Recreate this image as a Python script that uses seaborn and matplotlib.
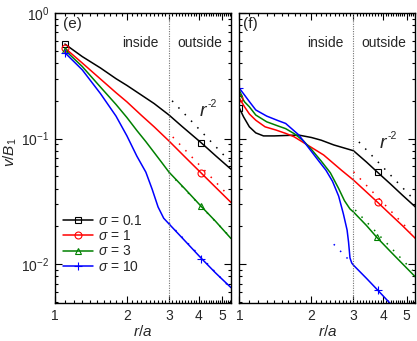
import numpy as np
import pandas as pd
import seaborn as sns
import matplotlib.pyplot as plt
from matplotlib.lines import Line2D
from matplotlib.ticker import FixedLocator, FixedFormatter, NullFormatter, LogLocator

# ---------------------------------------------------------------
# dati
# ---------------------------------------------------------------
sigma_labels = ["0.1", "1", "3", "10"]
colors = ["#000000", "#ff0000", "#008000", "#0000ff"]
marker_styles = ["s", "o", "^", "+"]

# pannello (e)
e_r_s01 = [1.1, 1.3, 1.55, 1.8, 2.0, 2.3, 2.6, 3.0, 3.4, 4.08, 4.7, 5.45]
e_v_s01 = [0.566, 0.45, 0.365, 0.30, 0.265, 0.222, 0.19, 0.154, 0.125, 0.093, 0.073, 0.057]
e_r_s1 = [1.1, 1.3, 1.55, 1.8, 2.0, 2.3, 2.6, 3.0, 3.5, 4.08, 4.7, 5.45]
e_v_s1 = [0.526, 0.40, 0.298, 0.232, 0.196, 0.153, 0.124, 0.0956, 0.0713, 0.0534, 0.0409, 0.031]
e_r_s3 = [1.1, 1.3, 1.55, 1.8, 2.0, 2.2, 2.4, 2.6, 2.8, 3.0, 3.5, 4.08, 4.7, 5.45]
e_v_s3 = [0.507, 0.375, 0.257, 0.187, 0.147, 0.116, 0.0945, 0.0774, 0.0643, 0.054, 0.0397, 0.029, 0.0219, 0.016]
e_r_s10 = [1.1, 1.3, 1.55, 1.8, 2.0, 2.2, 2.4, 2.55, 2.7, 2.85, 3.0, 3.5, 4.08, 4.7, 5.45]
e_v_s10 = [0.483, 0.353, 0.228, 0.151, 0.105, 0.0725, 0.054, 0.0395, 0.0285, 0.0232, 0.0209, 0.0153, 0.0112, 0.0085, 0.0065]

# pannello (f)
f_r_s01 = [1.0, 1.04, 1.1, 1.17, 1.26, 1.4, 1.6, 1.77, 2.0, 2.2, 2.48, 2.75, 3.0, 3.4, 3.79, 4.3, 4.8, 5.45]
f_v_s01 = [0.174, 0.149, 0.124, 0.111, 0.105, 0.105, 0.106, 0.1066, 0.102, 0.097, 0.089, 0.084, 0.080, 0.065, 0.0537, 0.0432, 0.0355, 0.0285]
f_r_s1 = [1.0, 1.05, 1.1, 1.17, 1.28, 1.42, 1.56, 1.69, 2.0, 2.25, 2.67, 3.0, 3.4, 3.79, 4.3, 4.8, 5.45]
f_v_s1 = [0.209, 0.179, 0.157, 0.14, 0.124, 0.117, 0.11, 0.1035, 0.085, 0.074, 0.056, 0.0467, 0.0375, 0.031, 0.0247, 0.0203, 0.016]
f_r_s3 = [1.0, 1.05, 1.1, 1.17, 1.3, 1.45, 1.56, 1.7, 1.85, 2.0, 2.2, 2.4, 2.6, 2.75, 2.9, 3.0, 3.4, 3.76, 4.3, 4.8, 5.45]
f_v_s3 = [0.229, 0.196, 0.179, 0.154, 0.136, 0.126, 0.12, 0.109, 0.096, 0.082, 0.066, 0.0534, 0.040, 0.032, 0.0275, 0.026, 0.0203, 0.0163, 0.0125, 0.0101, 0.0079]
f_r_s10 = [1.0, 1.05, 1.1, 1.17, 1.3, 1.45, 1.56, 1.77, 2.0, 2.15, 2.3, 2.45, 2.6, 2.72, 2.82, 2.86, 2.9, 2.95, 3.0, 3.4, 3.79, 4.3]
f_v_s10 = [0.251, 0.222, 0.197, 0.169, 0.151, 0.139, 0.132, 0.107, 0.079, 0.066, 0.056, 0.0457, 0.0348, 0.0252, 0.0187, 0.015, 0.0112, 0.0102, 0.0098, 0.0077, 0.0062, 0.0048]

# marker (posizioni lette)
e_mark_r = [1.1, 4.08]
e_mark_v = [[0.566, 0.093], [0.526, 0.0534], [0.507, 0.029], [0.483, 0.0109]]
f_mark_r = [[1.0, 3.79], [1.0, 3.79], [1.0, 3.76], [1.0, 3.79]]
f_mark_v = [[0.174, 0.0537], [0.209, 0.031], [0.229, 0.0163], [0.251, 0.0062]]

# rette r^-2 (punti estremi)
e_ref_r = [[3.09, 5.4], [3.11, 5.3], [3.0, 5.4], [3.0, 5.4]]
e_ref_v = [[0.2, 0.0655], [0.103, 0.0355], [0.0534, 0.0165], [0.0211, 0.0065]]
f_ref_r = [[3.16, 5.4], [3.0, 5.2], [3.05, 5.3], [2.48, 2.97]]
f_ref_v = [[0.094, 0.0323], [0.0544, 0.0181], [0.027, 0.0089], [0.0144, 0.0101]]

x_major = [1, 2, 3, 4, 5]
x_minor = [round(1.0 + 0.1 * k, 1) for k in range(1, 45) if round(1.0 + 0.1 * k, 1) not in (2.0, 3.0, 4.0, 5.0)]


def build_df(rs, vs):
    rows = []
    for lab, r, v in zip(sigma_labels, rs, vs):
        rows.append(pd.DataFrame({"r": r, "v": v, "sigma": lab}))
    return pd.concat(rows, ignore_index=True)


def draw_panel(ax, df, mark_r, mark_v, ref_r, ref_v, tag, rpos, show_ylabels):
    sns.lineplot(data=df, x="r", y="v", hue="sigma", palette=colors,
                 hue_order=sigma_labels, estimator=None, legend=False,
                 linewidth=1.1, ax=ax)
    for i, c in enumerate(colors):
        # retta di riferimento r^-2 (punteggiata)
        sns.lineplot(x=ref_r[i], y=ref_v[i], color=c, linewidth=1.1,
                     linestyle=(0, (1, 5)), ax=ax)
        mr = mark_r[i] if isinstance(mark_r[0], list) else mark_r
        ax.plot(mr, mark_v[i], linestyle="none", marker=marker_styles[i],
                mfc="none", mec=c, mew=0.8, ms=5 if marker_styles[i] != "+" else 6)

    ax.axvline(3, color="0.45", linewidth=0.8, linestyle=(0, (1, 1.2)))

    ax.set_xscale("log")
    ax.set_yscale("log")
    ax.set_xlim(1, 5.45)
    ax.set_ylim(4.9e-3, 1)

    ax.xaxis.set_major_locator(FixedLocator(x_major))
    ax.xaxis.set_major_formatter(FixedFormatter([str(x) for x in x_major]))
    ax.xaxis.set_minor_locator(FixedLocator(x_minor))
    ax.xaxis.set_minor_formatter(NullFormatter())
    ax.yaxis.set_major_locator(LogLocator(base=10, numticks=10))
    ax.yaxis.set_minor_locator(LogLocator(base=10, subs=np.arange(2, 10), numticks=10))
    ax.yaxis.set_minor_formatter(NullFormatter())

    ax.tick_params(which="both", direction="in", top=True, right=True,
                   labelsize=10, width=0.8, color="black")
    ax.tick_params(which="major", length=5, pad=4)
    ax.tick_params(which="minor", length=2.5)
    if not show_ylabels:
        ax.tick_params(labelleft=False)
    for s in ax.spines.values():
        s.set_linewidth(1.0)
        s.set_color("black")

    ax.set_xlabel("$r/a$", fontsize=11, labelpad=1)
    ax.set_ylabel("")

    trans = ax.get_xaxis_transform()
    ax.text(2.72, 0.897, "inside", transform=trans, ha="right", va="center", fontsize=10)
    ax.text(3.25, 0.897, "outside", transform=trans, ha="left", va="center", fontsize=10)
    ax.text(0.045 if tag == "(e)" else 0.022, 0.985, tag, transform=ax.transAxes,
            ha="left", va="top", fontsize=11)
    ax.text(rpos[0], rpos[1], "r", fontsize=14, fontstyle="italic", ha="left", va="center")
    ax.text(rpos[0] * 1.08, rpos[1] * 1.15, "-2", fontsize=7.5, ha="left", va="center")


def main():
    sns.set_theme(style="ticks")
    plt.rcParams["font.family"] = ["Liberation Sans", "DejaVu Sans"]
    plt.rcParams["mathtext.fontset"] = "custom"
    plt.rcParams["mathtext.rm"] = "Liberation Sans"
    plt.rcParams["mathtext.it"] = "Liberation Sans:italic"
    plt.rcParams["mathtext.bf"] = "Liberation Sans:bold"

    fig = plt.figure(figsize=(4.17, 3.41), dpi=100)
    ax_e = fig.add_axes([0.1319, 0.1114, 0.422, 0.8504])
    ax_f = fig.add_axes([0.5743, 0.1114, 0.422, 0.8504])

    df_e = build_df([e_r_s01, e_r_s1, e_r_s3, e_r_s10], [e_v_s01, e_v_s1, e_v_s3, e_v_s10])
    df_f = build_df([f_r_s01, f_r_s1, f_r_s3, f_r_s10], [f_v_s01, f_v_s1, f_v_s3, f_v_s10])

    draw_panel(ax_e, df_e, e_mark_r, e_mark_v, e_ref_r, e_ref_v, "(e)", (4.02, 0.163), True)
    draw_panel(ax_f, df_f, f_mark_r, f_mark_v, f_ref_r, f_ref_v, "(f)", (3.85, 0.091), False)

    ax_e.set_ylabel("$v/B_1$", fontsize=11)
    ax_e.yaxis.set_label_coords(-0.205, 0.52)

    handles = [Line2D([0], [0], color=c, lw=1.1, marker=m, mfc="none", mec=c, mew=0.8,
                      ms=5 if m != "+" else 6)
               for c, m in zip(colors, marker_styles)]
    labels = [r"$\sigma$ = " + s for s in sigma_labels]
    ax_e.legend(handles, labels, loc="center left", bbox_to_anchor=(0.044, 0.2045),
                frameon=False, fontsize=10, borderpad=0, borderaxespad=0,
                handlelength=2.2, handletextpad=0.35, labelspacing=0.1)

    fig.savefig("out.png", dpi=100)
    plt.close(fig)


if __name__ == "__main__":
    main()
